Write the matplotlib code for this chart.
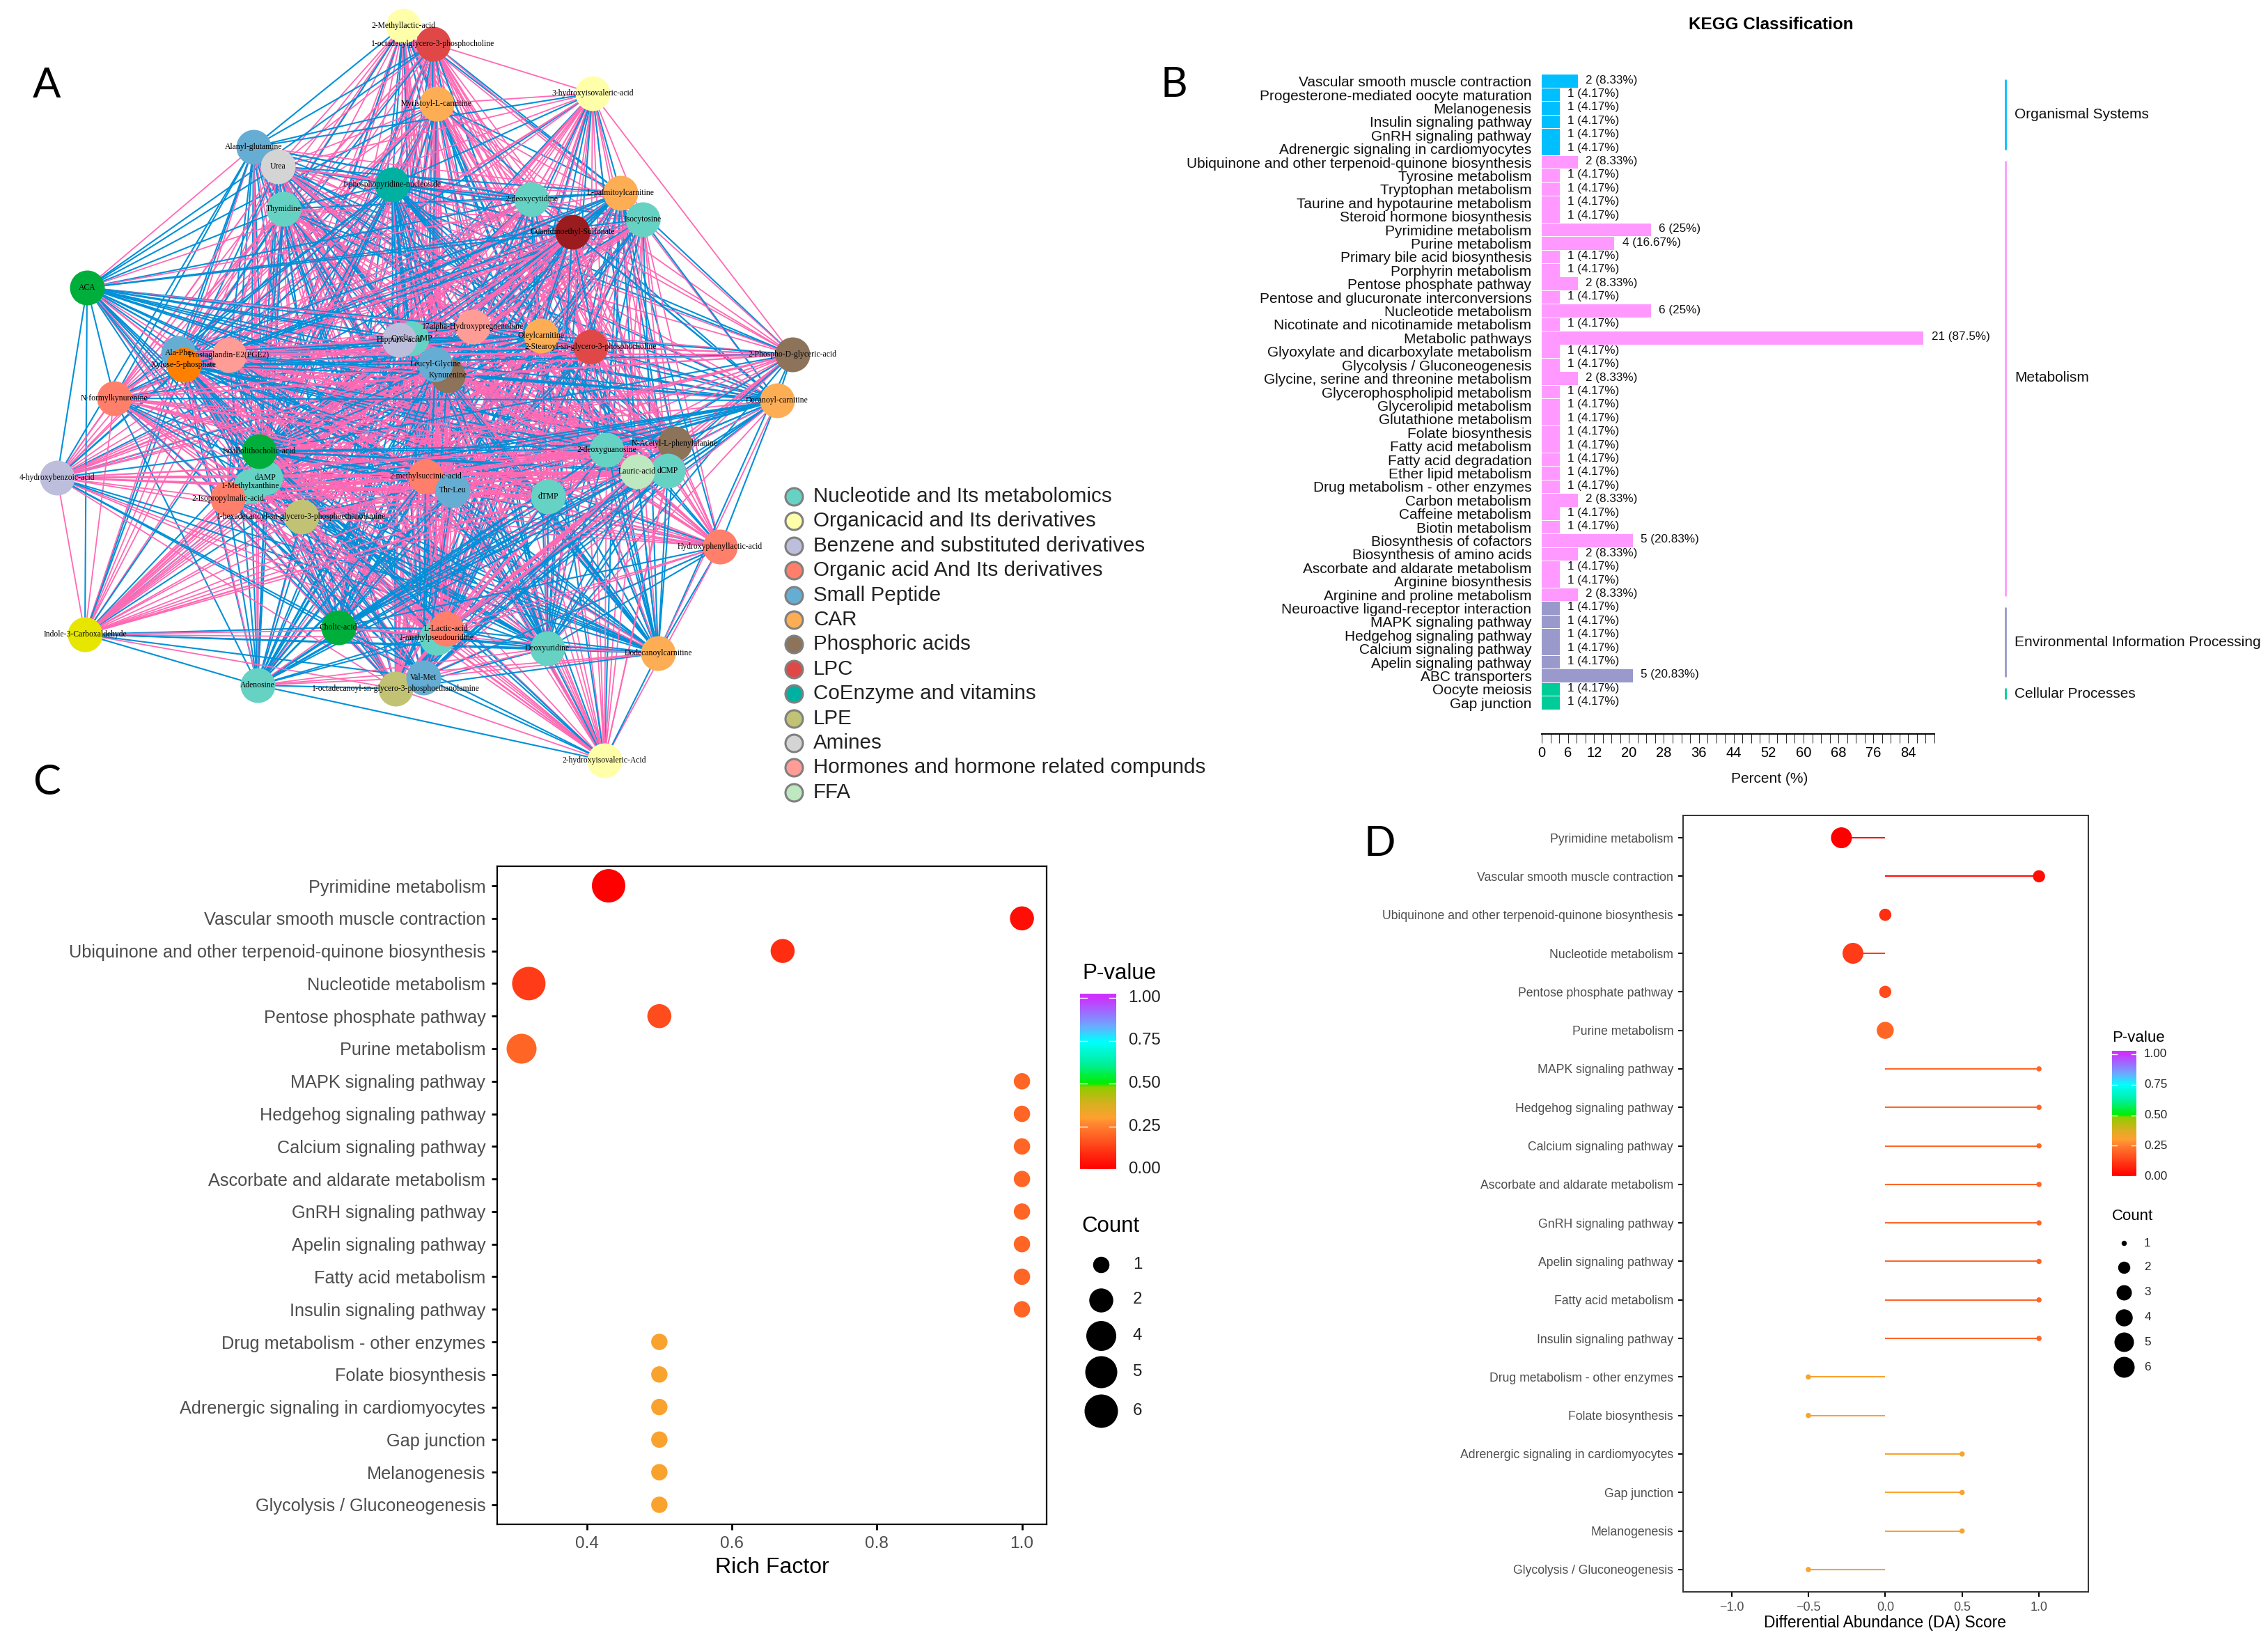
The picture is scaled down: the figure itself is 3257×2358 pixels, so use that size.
import numpy as np
import matplotlib
matplotlib.use("Agg")
import matplotlib.pyplot as plt
from matplotlib.colors import LinearSegmentedColormap

W, H = 3257, 2358
plt.rcParams['font.family'] = ['Liberation Sans', 'DejaVu Sans']

# --- panel A: network nodes (pixels)
node_names = ['2-Methyllactic-acid', '1-octadecylglycero-3-phosphocholine', 'Myristoyl-L-carnitine',
              '3-hydroxyisovaleric-acid', 'Alanyl-glutamine', 'Urea', 'Thymidine',
              '1-phosphopyridine-nucleoside', '2-deoxycytidine', 'L-palmitoylcarnitine', 'Isocytosine',
              'Guanidinoethyl-Sulfonate', 'ACA', '17alpha-Hydroxypregnenolone', 'Cyclic-AMP', 'Hippuric-acid',
              'Oleylcarnitine', '2-Stearoyl-sn-glycero-3-phosphocholine', 'Ala-Phe', 'Prostaglandin-E2(PGE2)',
              'Xylose-5-phosphate', 'Kynurenine', 'Leucyl-Glycine', '2-Phospho-D-glyceric-acid',
              'N-formylkynurenine', 'Decanoyl-carnitine', 'dAMP', '1-Methylxanthine', 'Isoallolithocholic-acid',
              '4-hydroxybenzoic-acid', '2-Isopropylmalic-acid', '1-hexadecanoyl-sn-glycero-3-phosphoethanolamine',
              '2-methylsuccinic-acid', 'Thr-Leu', 'dTMP', '2-deoxyguanosine', 'N-Acetyl-L-phenylalanine',
              'dCMP', 'Lauric-acid', 'Hydroxyphenyllactic-acid', 'Indole-3-Carboxaldehyde', 'Cholic-acid',
              '1-methylpseudouridine', 'L-Lactic-acid', 'Deoxyuridine', 'Dodecanoylcarnitine', 'Adenosine',
              '1-octadecanoyl-sn-glycero-3-phosphoethanolamine', 'Val-Met', '2-hydroxyisovaleric-Acid']
node_x = [579, 622, 627, 851, 364, 399, 407, 563, 763, 891, 923, 822, 125, 679, 591, 573, 777, 848, 256, 329,
          264, 643, 625, 1138, 164, 1116, 381, 360, 372, 82, 327, 433, 611, 650, 787, 871, 969, 959, 915, 1034,
          122, 486, 627, 641, 786, 945, 370, 568, 608, 868]
node_y = [37, 63, 149, 134, 211, 239, 300, 265, 286, 277, 315, 333, 413, 469, 486, 488, 482, 498, 507, 510,
          524, 539, 523, 509, 572, 575, 686, 698, 648, 686, 716, 742, 684, 704, 713, 646, 637, 676, 677, 785,
          911, 901, 916, 903, 931, 938, 984, 989, 973, 1092]
node_class = ['Org2', 'LPC', 'CAR', 'Org2', 'Pep', 'Amine', 'Nuc', 'CoE', 'Nuc', 'CAR', 'Nuc', 'Sulf', 'Bile',
              'Horm', 'Nuc', 'Benz', 'CAR', 'LPC', 'Pep', 'Horm', 'Sugar', 'Phos', 'Pep', 'Phos', 'Org', 'CAR',
              'Nuc', 'Nuc', 'Bile', 'Benz', 'Org', 'LPE', 'Org', 'Pep', 'Nuc', 'Nuc', 'Phos', 'Nuc', 'FFA', 'Org',
              'Ald', 'Bile', 'Nuc', 'Org', 'Nuc', 'CAR', 'Nuc', 'LPE', 'Pep', 'Org2']
class_colors = {'Nuc': '#66D2C4', 'Org2': '#FFFFAA', 'Benz': '#BDBDDC', 'Org': '#FF7F6B', 'Pep': '#66ADD4',
                'CAR': '#FDAE55', 'Phos': '#8C735A', 'LPC': '#E04848', 'CoE': '#00B0A0', 'LPE': '#C2C274',
                'Amine': '#D4D4D4', 'Horm': '#FF9C96', 'FFA': '#BDE8C0', 'Bile': '#00AE3C', 'Sulf': '#9B1C1F',
                'Sugar': '#FF8000', 'Ald': '#E6E600'}

# nodes whose correlations with the others are mostly negative (blue), estimated by eye
blue_group = ['ACA', 'Alanyl-glutamine', 'Adenosine', 'Val-Met', 'Cholic-acid',
              'Isoallolithocholic-acid', 'Deoxyuridine', 'Dodecanoylcarnitine', 'Decanoyl-carnitine',
              'L-palmitoylcarnitine', 'Oleylcarnitine', '1-phosphopyridine-nucleoside', 'Xylose-5-phosphate']
# outer nodes are not linked to each other, apart from these pairs
rim_nodes = ['ACA', '4-hydroxybenzoic-acid', 'Indole-3-Carboxaldehyde', 'Adenosine', '2-hydroxyisovaleric-Acid',
             'Hydroxyphenyllactic-acid', 'Decanoyl-carnitine', '2-Phospho-D-glyceric-acid',
             '3-hydroxyisovaleric-acid', '2-Methyllactic-acid', '1-octadecylglycero-3-phosphocholine']
rim_pairs = [('ACA', '4-hydroxybenzoic-acid'), ('ACA', 'Indole-3-Carboxaldehyde'),
             ('4-hydroxybenzoic-acid', 'Indole-3-Carboxaldehyde'), ('Indole-3-Carboxaldehyde', 'Adenosine'),
             ('Adenosine', '2-hydroxyisovaleric-Acid'), ('2-hydroxyisovaleric-Acid', 'Hydroxyphenyllactic-acid'),
             ('Hydroxyphenyllactic-acid', 'Decanoyl-carnitine'), ('Decanoyl-carnitine', '2-Phospho-D-glyceric-acid'),
             ('2-Phospho-D-glyceric-acid', '3-hydroxyisovaleric-acid'),
             ('3-hydroxyisovaleric-acid', '1-octadecylglycero-3-phosphocholine'),
             ('ACA', '1-octadecylglycero-3-phosphocholine')]

legend_a = ['Nucleotide and Its metabolomics', 'Organicacid and Its derivatives', 'Benzene and substituted derivatives',
            'Organic acid And Its derivatives', 'Small Peptide', 'CAR', 'Phosphoric acids', 'LPC',
            'CoEnzyme and vitamins', 'LPE', 'Amines', 'Hormones and hormone related compunds', 'FFA']
legend_a_class = ['Nuc', 'Org2', 'Benz', 'Org', 'Pep', 'CAR', 'Phos', 'LPC', 'CoE', 'LPE', 'Amine', 'Horm', 'FFA']

# --- panel B: KEGG classification
kegg_terms = ['Vascular smooth muscle contraction', 'Progesterone-mediated oocyte maturation', 'Melanogenesis',
              'Insulin signaling pathway', 'GnRH signaling pathway', 'Adrenergic signaling in cardiomyocytes',
              'Ubiquinone and other terpenoid-quinone biosynthesis', 'Tyrosine metabolism', 'Tryptophan metabolism',
              'Taurine and hypotaurine metabolism', 'Steroid hormone biosynthesis', 'Pyrimidine metabolism',
              'Purine metabolism', 'Primary bile acid biosynthesis', 'Porphyrin metabolism', 'Pentose phosphate pathway',
              'Pentose and glucuronate interconversions', 'Nucleotide metabolism',
              'Nicotinate and nicotinamide metabolism', 'Metabolic pathways', 'Glyoxylate and dicarboxylate metabolism',
              'Glycolysis / Gluconeogenesis', 'Glycine, serine and threonine metabolism',
              'Glycerophospholipid metabolism', 'Glycerolipid metabolism', 'Glutathione metabolism',
              'Folate biosynthesis', 'Fatty acid metabolism', 'Fatty acid degradation', 'Ether lipid metabolism',
              'Drug metabolism - other enzymes', 'Carbon metabolism', 'Caffeine metabolism', 'Biotin metabolism',
              'Biosynthesis of cofactors', 'Biosynthesis of amino acids', 'Ascorbate and aldarate metabolism',
              'Arginine biosynthesis', 'Arginine and proline metabolism', 'Neuroactive ligand-receptor interaction',
              'MAPK signaling pathway', 'Hedgehog signaling pathway', 'Calcium signaling pathway',
              'Apelin signaling pathway', 'ABC transporters', 'Oocyte meiosis', 'Gap junction']
kegg_counts = [2, 1, 1, 1, 1, 1,
               2, 1, 1, 1, 1, 6, 4, 1, 1, 2, 1, 6, 1, 21, 1, 1, 2, 1, 1, 1, 1, 1, 1, 1, 1, 2, 1, 1, 5, 2, 1, 1, 2,
               1, 1, 1, 1, 1, 5,
               1, 1]
kegg_percent = {1: '4.17', 2: '8.33', 4: '16.67', 5: '20.83', 6: '25', 21: '87.5'}
kegg_groups = ['Organismal Systems', 'Metabolism', 'Environmental Information Processing', 'Cellular Processes']
kegg_group_sizes = [6, 33, 6, 2]
kegg_group_colors = ['#00BFFF', '#FF99FF', '#9999CC', '#00CC99']
kegg_ticks = [0, 6, 12, 20, 28, 36, 44, 52, 60, 68, 76, 84]

# --- panels C and D: enrichment
path_names = ['Pyrimidine metabolism', 'Vascular smooth muscle contraction',
              'Ubiquinone and other terpenoid-quinone biosynthesis', 'Nucleotide metabolism',
              'Pentose phosphate pathway', 'Purine metabolism', 'MAPK signaling pathway', 'Hedgehog signaling pathway',
              'Calcium signaling pathway', 'Ascorbate and aldarate metabolism', 'GnRH signaling pathway',
              'Apelin signaling pathway', 'Fatty acid metabolism', 'Insulin signaling pathway',
              'Drug metabolism - other enzymes', 'Folate biosynthesis', 'Adrenergic signaling in cardiomyocytes',
              'Gap junction', 'Melanogenesis', 'Glycolysis / Gluconeogenesis']
rich_factor = [0.43, 1.0, 0.67, 0.32, 0.5, 0.31, 1, 1, 1, 1, 1, 1, 1, 1, 0.5, 0.5, 0.5, 0.5, 0.5, 0.5]
p_values = [0.0, 0.03, 0.09, 0.12, 0.15, 0.2, 0.2, 0.2, 0.2, 0.2, 0.2, 0.2, 0.2, 0.2,
            0.31, 0.31, 0.31, 0.31, 0.31, 0.31]
path_counts = [6, 2, 2, 6, 2, 4, 1, 1, 1, 1, 1, 1, 1, 1, 1, 1, 1, 1, 1, 1]
da_score = [-0.285, 1, 0, -0.21, 0, 0, 1, 1, 1, 1, 1, 1, 1, 1, -0.5, -0.5, 0.5, 0.5, 0.5, -0.5]
c_legend_counts = [1, 2, 4, 5, 6]
d_legend_counts = [1, 2, 3, 4, 5, 6]
p_ticks = [0.0, 0.25, 0.5, 0.75, 1.0]

# marker diameters in pixels per count
c_size_px = {1: 23.5, 2: 34.5, 4: 43, 5: 46, 6: 48}
d_size_px = {1: 7.5, 2: 17.5, 3: 22, 4: 24.5, 5: 28, 6: 30}

p_cmap = LinearSegmentedColormap.from_list('pval', [
    (0.0, '#FF0000'), (0.25, '#FF8030'), (0.3, '#FFA030'), (0.38, '#D8B020'), (0.48, '#90CC00'),
    (0.5, '#00EE00'), (0.62, '#00F0A0'), (0.75, '#00FFFF'), (0.83, '#66B0FF'), (1.0, '#CC33FF')])


def px_axes(left, top, right, bottom, **kw):
    return fig.add_axes([left / W, 1 - bottom / H, (right - left) / W, (bottom - top) / H], **kw)


def fig_text(x, y, s, **kw):
    kw.setdefault('va', 'center')
    fig.text(x / W, 1 - y / H, s, **kw)


def area(d_px):
    return (d_px * 0.72) ** 2


fig = plt.figure(figsize=(W / 100, H / 100), dpi=100, facecolor='white')

# overlay in pixel units for the network and the hand placed legends
over = fig.add_axes([0, 0, 1, 1])
over.set_xlim(0, W)
over.set_ylim(H, 0)
over.axis('off')

# --- A
is_rim = [n in rim_nodes for n in node_names]
is_blue = [n in blue_group for n in node_names]
for i in range(len(node_names)):
    for j in range(i + 1, len(node_names)):
        if is_rim[i] and is_rim[j] and (node_names[i], node_names[j]) not in rim_pairs \
                and (node_names[j], node_names[i]) not in rim_pairs:
            continue
        blue = is_blue[i] != is_blue[j]
        over.plot([node_x[i], node_x[j]], [node_y[i], node_y[j]], color='#0090D8' if blue else '#FF69B4',
                  lw=1.5 if blue else 1.3, zorder=1, solid_capstyle='butt')
for k, name in enumerate(node_names):
    over.scatter(node_x[k], node_y[k], s=area(50), color=class_colors[node_class[k]], linewidths=0, zorder=2 + k * 0.01)
for k, name in enumerate(node_names):
    over.text(node_x[k], node_y[k], name, ha='center', va='center', fontsize=8.4, zorder=3,
              family=['Liberation Serif'], color='black')

for k, (label, cls) in enumerate(zip(legend_a, legend_a_class)):
    y = 713 + k * 35.4
    over.scatter(1140, y, s=area(25), color=class_colors[cls], edgecolors='#808080', linewidths=2.2, zorder=2)
    over.text(1168, y, label, fontsize=21.3, va='center', ha='left', color='#222222')

for letter, x, y in [('A', 67, 123), ('B', 1686, 122), ('C', 67, 1124), ('D', 1981, 1212)]:
    fig_text(x, y, letter, fontsize=43, ha='center', family=['Lato'], color='black')

# --- B
ax_b = px_axes(2214, 107, 2778, 1019)
rows = np.arange(len(kegg_terms))
bar_colors = []
for g, size in enumerate(kegg_group_sizes):
    bar_colors += [kegg_group_colors[g]] * size
percents = [float(kegg_percent[c]) for c in kegg_counts]
ax_b.barh(rows, percents, height=0.96, color=bar_colors)
for r, c, p in zip(rows, kegg_counts, percents):
    ax_b.text(p + 1.8, r - 0.08, f'{c} ({kegg_percent[c]}%)', fontsize=12.3, va='center', ha='left', color='#111111')
ax_b.set_xlim(0, 90)
ax_b.set_ylim(46.5, -0.5)
ax_b.set_yticks(rows)
ax_b.set_yticklabels(kegg_terms, fontsize=15, color='#111111')
ax_b.tick_params(axis='y', length=0, pad=10.5)
for side in ['top', 'right', 'left']:
    ax_b.spines[side].set_visible(False)
ax_b.spines['bottom'].set_position(('outward', 25))
ax_b.spines['bottom'].set_linewidth(1.4)
ax_b.set_xticks(np.arange(0, 91, 2))
ax_b.set_xticklabels([str(t) if t in kegg_ticks else '' for t in np.arange(0, 91, 2)], fontsize=14.5)
ax_b.tick_params(axis='x', length=9, width=0.6, pad=4)
ax_b.patch.set_alpha(0)

group_spans = [(114, 215), (231, 856), (871.5, 972), (988, 1004)]
group_label_y = [165, 543, 922, 996]
for g, name in enumerate(kegg_groups):
    over.plot([2880, 2880], group_spans[g], color=kegg_group_colors[g], lw=2.0, solid_capstyle='butt')
    fig_text(2893, group_label_y[g], name, fontsize=15, ha='left', color='#111111')
fig_text(2543, 36, 'KEGG Classification', fontsize=17.5, fontweight='bold', ha='center')
fig_text(2541, 1119, 'Percent (%)', fontsize=15, ha='center', color='#111111')

# --- C
ax_c = px_axes(714, 1244, 1503, 2189)
rows = np.arange(len(path_names))
ax_c.scatter(rich_factor, rows, s=[area(c_size_px[c]) for c in path_counts], c=p_values, cmap=p_cmap,
             vmin=0, vmax=1, linewidths=0, zorder=3)
ax_c.set_xlim(0.2764, 1.034)
ax_c.set_ylim(19.6, -0.6)
ax_c.set_yticks(rows)
ax_c.set_yticklabels(path_names, fontsize=18.2, color='#4D4D4D')
ax_c.set_xticks([0.4, 0.6, 0.8, 1.0])
ax_c.set_xticklabels(['0.4', '0.6', '0.8', '1.0'], fontsize=17.6, color='#4D4D4D')
ax_c.tick_params(axis='both', length=6, width=2, pad=6)
for s in ax_c.spines.values():
    s.set_linewidth(1.6)
fig_text(1109, 2251, 'Rich Factor', fontsize=23, ha='center')

# --- D
ax_d = px_axes(2417, 1171, 2999, 2286)
for r, x, p in zip(rows, da_score, p_values):
    ax_d.plot([0, x], [r, r], color=p_cmap(p), lw=1.5, zorder=2, solid_capstyle='butt')
ax_d.scatter(da_score, rows, s=[area(d_size_px[c]) for c in path_counts], c=p_values, cmap=p_cmap,
             vmin=0, vmax=1, linewidths=0, zorder=3)
ax_d.set_xlim(-1.315, 1.321)
ax_d.set_ylim(19.58, -0.58)
ax_d.set_yticks(rows)
ax_d.set_yticklabels(path_names, fontsize=12.7, color='#4D4D4D')
ax_d.set_xticks([-1, -0.5, 0, 0.5, 1])
ax_d.set_xticklabels(['\u22121.0', '\u22120.5', '0.0', '0.5', '1.0'], fontsize=13, color='#4D4D4D')
ax_d.tick_params(axis='both', length=5, width=1.5, pad=5)
for s in ax_d.spines.values():
    s.set_linewidth(1.4)
    s.set_color('#333333')
fig_text(2707, 2331, 'Differential Abundance (DA) Score', fontsize=16.4, ha='center')


def p_colorbar(left, right, y0, y1, y_top, label_x, fontsize):
    # y0 is the pixel row of 0.00, y1 the row of 1.00
    top_val = (y0 - y_top) / (y0 - y1)
    cax = px_axes(left, y_top, right, y0)
    grad = np.linspace(0, top_val, 256).reshape(-1, 1)
    cax.imshow(grad, origin='lower', aspect='auto', cmap=p_cmap, vmin=0, vmax=1, extent=[0, 1, 0, top_val])
    cax.axis('off')
    for t in p_ticks:
        cax.plot([0, 0.2], [t, t], color='white', lw=1)
        cax.plot([0.8, 1], [t, t], color='white', lw=1)
        fig_text(label_x, y0 - t * (y0 - y1), f'{t:.2f}', fontsize=fontsize, ha='left', color='#222222')


p_colorbar(1551, 1603, 1679, 1433, 1427, 1620, 17.3)
fig_text(1554, 1398, 'P-value', fontsize=22.5, ha='left')
fig_text(1553, 1761, 'Count', fontsize=22.5, ha='left')
for c, y in zip(c_legend_counts, [1816, 1866.5, 1917.5, 1969.5, 2026]):
    over.scatter(1581, y, s=area(c_size_px[c]), color='black', linewidths=0)
    fig_text(1633.5, y, str(c), fontsize=17.3, ha='center', color='#222222')

p_colorbar(3033, 3068, 1689, 1514, 1509, 3079, 12.3)
fig_text(3033, 1490, 'P-value', fontsize=16, ha='left')
fig_text(3033, 1747, 'Count', fontsize=16, ha='left')
for c, y in zip(d_legend_counts, [1785, 1820, 1856, 1891.5, 1927, 1963]):
    over.scatter(3050, y, s=area(d_size_px[c]), color='black', linewidths=0)
    fig_text(3084, y, str(c), fontsize=12.3, ha='center', color='#222222')

fig.savefig('out.png', dpi=100)
